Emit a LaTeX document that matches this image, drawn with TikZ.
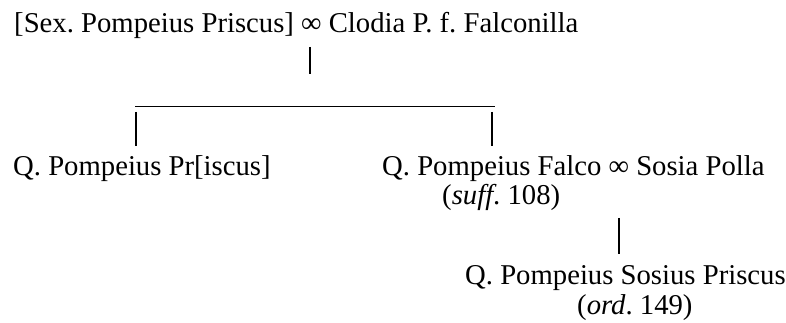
\documentclass[tikz,border=0pt]{standalone}
\usepackage{fontspec}
\setmainfont{Liberation Serif}
\begin{document}
\frenchspacing
\begin{tikzpicture}[x=1pt,y=1pt,
  txt/.style={inner sep=0pt, anchor=base west, font=\fontsize{28.7}{34}\selectfont\frenchspacing},
  bar/.style={line width=2pt},
  hbar/.style={line width=1pt}]
\useasboundingbox (0,0) rectangle (786,323);
% texts
\node[txt] (top) at (14,290) {[Sex. Pompeius Priscus] ∞ Clodia P. f. Falconilla};
\node[txt] (left) at (13,147) {Q. Pompeius Pr[iscus]};
\node[txt] (falco) at (382,147) {Q. Pompeius Falco ∞ Sosia Polla};
\node[txt] (suff) at (442,118) {(\textit{suff}. 108)};
\node[txt] (sosius) at (465,38) {Q. Pompeius Sosius Priscus};
\node[txt] (ord) at (577,8) {(\textit{ord}. 149)};
% connector points
\coordinate (b1t) at (309.5,276);
\coordinate (b1b) at (309.5,249);
\coordinate (hl) at (135,216);
\coordinate (hr) at (495,216);
\coordinate (lbt) at (136,211);
\coordinate (lbb) at (136,177);
\coordinate (rbt) at (492,211);
\coordinate (rbb) at (492,177);
\coordinate (b3t) at (619,105);
\coordinate (b3b) at (619,69);
% connectors
\draw[bar] (b1t) -- (b1b);
\draw[hbar] (hl) -- (hr);
\draw[bar] (lbt) -- (lbb);
\draw[bar] (rbt) -- (rbb);
\draw[bar] (b3t) -- (b3b);
\end{tikzpicture}
\end{document}
